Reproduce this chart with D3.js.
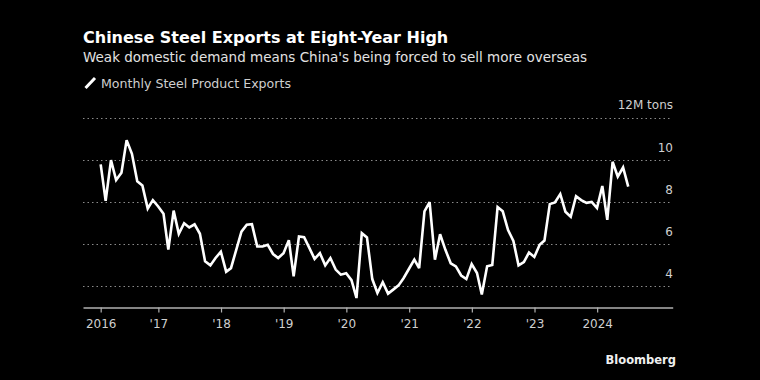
<!DOCTYPE html>
<html>
<head>
<meta charset="utf-8">
<script src="https://cdn.jsdelivr.net/npm/d3@7"></script>
<style>
  html, body { margin: 0; padding: 0; background: #000; }
  svg { display: block; }
  text { font-family: "DejaVu Sans", "Noto Sans", sans-serif; }
</style>
</head>
<body>
<svg id="chart" width="760" height="380"></svg>
<script>
// ---- data (million tons, monthly, Jan 2016 - Jun 2024) ----
const startYear = 2016;
const exports2016 = [9.8, 8.07, 10.0, 9.05, 9.4, 10.95, 10.3, 9.0, 8.8, 7.7, 8.1, 7.8];
const exports2017 = [7.45, 5.75, 7.6, 6.5, 7.0, 6.8, 6.95, 6.5, 5.2, 5.0, 5.35, 5.65];
const exports2018 = [4.7, 4.87, 5.75, 6.6, 6.93, 6.96, 5.9, 5.9, 5.98, 5.54, 5.35, 5.58];
const exports2019 = [6.2, 4.48, 6.37, 6.34, 5.82, 5.31, 5.58, 5.0, 5.35, 4.8, 4.56, 4.63];
const exports2020 = [4.3, 3.45, 6.53, 6.33, 4.35, 3.69, 4.2, 3.66, 3.85, 4.05, 4.4, 4.84];
const exports2021 = [5.27, 4.87, 7.56, 8.0, 5.27, 6.48, 5.74, 5.1, 4.95, 4.52, 4.35, 5.06];
const exports2022 = [4.64, 3.62, 4.96, 5.02, 7.77, 7.57, 6.68, 6.16, 5.0, 5.16, 5.61, 5.4];
const exports2023 = [5.98, 6.18, 7.91, 7.99, 8.39, 7.55, 7.31, 8.29, 8.1, 7.97, 8.01, 7.72];
const exports2024 = [8.77, 7.16, 9.92, 9.21, 9.65, 8.74];
const yearlySeries = [exports2016, exports2017, exports2018, exports2019, exports2020,
                      exports2021, exports2022, exports2023, exports2024];

const yTicks = [4, 6, 8, 10];
const yTopTick = 12;
const yUnitLabel = "12M tons";
const xTickYears = [2016, 2017, 2018, 2019, 2020, 2021, 2022, 2023, 2024];
const xTickLabels = ["2016", "'17", "'18", "'19", "'20", "'21", "'22", "'23", "2024"];

const titleText = "Chinese Steel Exports at Eight-Year High";
const subtitleText = "Weak domestic demand means China's being forced to sell more overseas";
const legendText = "Monthly Steel Product Exports";
const sourceText = "Bloomberg";

// monthly values dated at month end
const data = [];
yearlySeries.forEach((arr, yi) => {
  arr.forEach((v, m) => {
    data.push({ date: new Date(startYear + yi, m + 1, 0), value: v });
  });
});

// ---- layout ----
const svg = d3.select("#chart");
const plotLeft = 83, plotRight = 672.7, plotTop = 118, plotBottom = 307.5;

const x = d3.scaleTime()
  .domain([new Date(2015, 9, 20), new Date(2025, 2, 16)])
  .range([plotLeft, plotRight]);
const y = d3.scaleLinear().domain([3, 12]).range([plotBottom, plotTop]);

svg.append("rect").attr("width", 760).attr("height", 380).attr("fill", "#000");

// titles
svg.append("text").attr("x", 83).attr("y", 43)
  .attr("fill", "#fff").attr("font-weight", "bold").attr("font-size", 16)
  .text(titleText);
svg.append("text").attr("x", 83).attr("y", 62)
  .attr("fill", "#e2e2e2").attr("font-size", 13.5)
  .text(subtitleText);

// legend
svg.append("line").attr("x1", 85.5).attr("y1", 88).attr("x2", 95).attr("y2", 78)
  .attr("stroke", "#fff").attr("stroke-width", 3);
svg.append("text").attr("x", 101).attr("y", 88)
  .attr("fill", "#cfcfcf").attr("font-size", 12.6)
  .text(legendText);

// gridlines
const gridVals = yTicks.concat([yTopTick]);
svg.append("g").selectAll("line").data(gridVals).join("line")
  .attr("x1", plotLeft).attr("x2", plotRight - 1)
  .attr("y1", d => Math.round(y(d)) + 0.5).attr("y2", d => Math.round(y(d)) + 0.5)
  .attr("stroke", "#8a8a8a").attr("stroke-width", 1)
  .attr("stroke-dasharray", "1.5,3");

// y labels
svg.append("g").selectAll("text").data(yTicks).join("text")
  .attr("x", 673).attr("y", d => y(d) - 8)
  .attr("text-anchor", "end").attr("fill", "#cfcfcf").attr("font-size", 12)
  .text(d => d);
svg.append("text").attr("x", 673).attr("y", y(yTopTick) - 9)
  .attr("text-anchor", "end").attr("fill", "#cfcfcf").attr("font-size", 12)
  .text(yUnitLabel);

// x axis
const tickDates = xTickYears.map((yr, i) => i === 0 ? data[0].date : new Date(yr, 0, 1));
const xAxis = d3.axisBottom(x)
  .tickValues(tickDates)
  .tickFormat((d, i) => xTickLabels[i])
  .tickSize(5).tickSizeOuter(0).tickPadding(7);
const gx = svg.append("g").attr("transform", `translate(0,${plotBottom})`).call(xAxis);
gx.select(".domain").attr("stroke", "#b0b0b0").attr("stroke-width", 1.5);
gx.selectAll(".tick line").attr("stroke", "#b0b0b0").attr("stroke-width", 1.2);
gx.selectAll(".tick text").attr("fill", "#cfcfcf").attr("font-size", 12)
  .attr("font-family", "'DejaVu Sans', sans-serif");

// line
const line = d3.line().x(d => x(d.date)).y(d => y(d.value));
svg.append("path").datum(data)
  .attr("d", line).attr("fill", "none")
  .attr("stroke", "#fff").attr("stroke-width", 2.6)
  .attr("stroke-linejoin", "miter").attr("stroke-miterlimit", 3);

// source
svg.append("text").attr("x", 676).attr("y", 364)
  .attr("text-anchor", "end").attr("fill", "#f0f0f0")
  .attr("font-weight", "bold").attr("font-size", 11.5)
  .text(sourceText);
</script>
</body>
</html>
